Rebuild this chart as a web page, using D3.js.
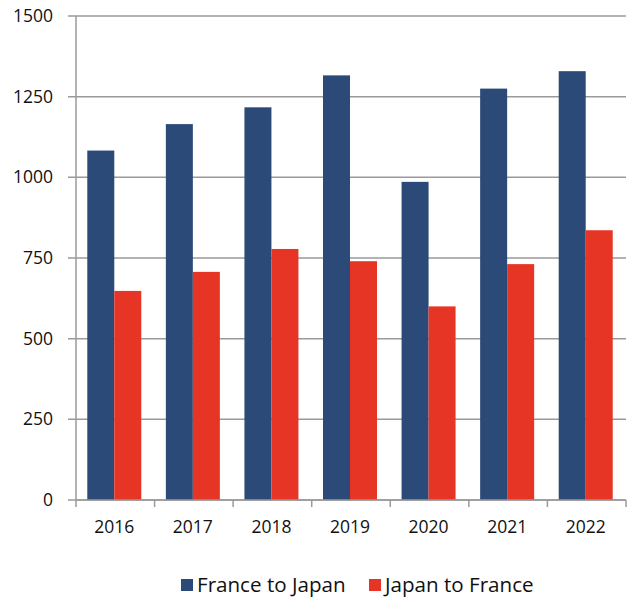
<!DOCTYPE html>
<html>
<head>
<meta charset="utf-8">
<script src="https://cdn.jsdelivr.net/npm/d3@7"></script>
<style>
  html, body { margin: 0; padding: 0; background: #fff; }
  svg { display: block; font-family: "Open Sans", "Liberation Sans", sans-serif; }
</style>
</head>
<body>
<svg id="chart" width="630" height="599"></svg>
<script>
// Yearly flows between the two countries
const years = ["2016", "2017", "2018", "2019", "2020", "2021", "2022"];
const franceToJapan = [1083, 1165, 1217, 1316, 986, 1275, 1329];
const japanToFrance = [648, 707, 778, 740, 600, 731, 836];
const seriesNames = ["France to Japan", "Japan to France"];
const seriesColors = ["#2c4a78", "#e63425"];
const yTicks = [0, 250, 500, 750, 1000, 1250, 1500];

const svg = d3.select("#chart");
const plotLeft = 76, plotRight = 626, plotTop = 16, plotBottom = 500;

const x = d3.scaleBand().domain(years).range([plotLeft, plotRight]).padding(0);
const y = d3.scaleLinear().domain([0, 1500]).range([plotBottom, plotTop]);

// Horizontal gridlines with the short ticks left of the axis
svg.append("g")
  .selectAll("line")
  .data(yTicks)
  .join("line")
  .attr("x1", plotLeft - 8)
  .attr("x2", plotRight)
  .attr("y1", d => y(d))
  .attr("y2", d => y(d))
  .attr("stroke", "#9a9a9a")
  .attr("stroke-width", 1.5);

// Y axis labels
const yAxis = d3.axisLeft(y).tickValues(yTicks).tickFormat(d3.format("d")).tickSize(0).tickPadding(0);
const gy = svg.append("g").attr("transform", `translate(${plotLeft - 23},0)`).call(yAxis);
gy.select(".domain").remove();
gy.selectAll("text")
  .attr("font-family", "Open Sans, sans-serif")
  .attr("font-size", 17.5)
  .attr("fill", "#111");

// Bars
const barW = 27;
const series = [franceToJapan, japanToFrance];
series.forEach((vals, si) => {
  svg.append("g")
    .selectAll("rect")
    .data(years.map((yr, i) => ({ yr, v: vals[i] })))
    .join("rect")
    .attr("x", d => x(d.yr) + x.bandwidth() / 2 - barW + si * barW - 1)
    .attr("y", d => y(d.v))
    .attr("width", barW)
    .attr("height", d => y(0) - y(d.v))
    .attr("fill", seriesColors[si]);
});

// Y axis line
svg.append("line")
  .attr("x1", plotLeft).attr("x2", plotLeft)
  .attr("y1", plotTop).attr("y2", plotBottom)
  .attr("stroke", "#9a9a9a").attr("stroke-width", 1.5);

// X axis with category separators
const xAxis = d3.axisBottom(x).tickSize(0).tickPadding(0);
const gx = svg.append("g").attr("transform", `translate(-1,${plotBottom})`).call(xAxis);
gx.select(".domain").remove();
gx.selectAll("text")
  .attr("dy", null)
  .attr("y", 33)
  .attr("font-family", "Open Sans, sans-serif")
  .attr("font-size", 17.5)
  .attr("fill", "#111");

svg.append("line")
  .attr("x1", plotLeft).attr("x2", plotRight)
  .attr("y1", plotBottom).attr("y2", plotBottom)
  .attr("stroke", "#9a9a9a").attr("stroke-width", 1.5);

const sepPositions = years.map(yr => x(yr)).concat([x(years[years.length - 1]) + x.bandwidth()]);
svg.append("g")
  .selectAll("line")
  .data(sepPositions)
  .join("line")
  .attr("x1", d => d).attr("x2", d => d)
  .attr("y1", plotBottom).attr("y2", plotBottom + 7)
  .attr("stroke", "#9a9a9a").attr("stroke-width", 1.5);

// Legend
const legendX = [181, 369];
const legend = svg.append("g");
seriesNames.forEach((name, i) => {
  legend.append("rect")
    .attr("x", legendX[i]).attr("y", 579)
    .attr("width", 12).attr("height", 12)
    .attr("fill", seriesColors[i]);
  legend.append("text")
    .attr("x", legendX[i] + 16).attr("y", 592)
    .attr("font-family", "Open Sans, sans-serif")
    .attr("font-size", 20.6)
    .attr("fill", "#111")
    .text(name);
});
</script>
</body>
</html>
